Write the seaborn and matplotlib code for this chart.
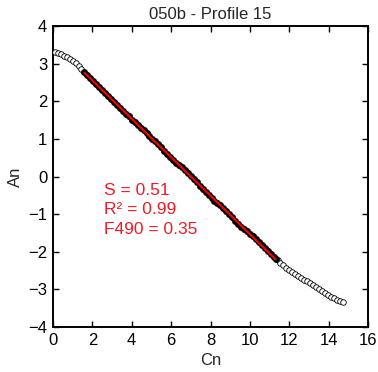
import numpy as np
import pandas as pd
import matplotlib
matplotlib.use('Agg')
import matplotlib.pyplot as plt
import seaborn as sns

# profile points outside the fitted window (open circles)
cn_head = [0.10, 0.25, 0.40, 0.55, 0.70, 0.85, 1.00, 1.15, 1.30, 1.45]
an_head = [3.32, 3.29, 3.25, 3.21, 3.17, 3.12, 3.07, 3.01, 2.94, 2.87]

cn_tail = [11.40, 11.55, 11.70, 11.85, 12.00, 12.15, 12.30, 12.45, 12.60, 12.75,
           12.90, 13.05, 13.20, 13.35, 13.50, 13.65, 13.80, 13.95, 14.10, 14.25,
           14.40, 14.55, 14.70]
an_tail = [-2.22, -2.29, -2.36, -2.42, -2.48, -2.54, -2.59, -2.64, -2.69, -2.74,
           -2.79, -2.84, -2.89, -2.94, -2.99, -3.04, -3.09, -3.14, -3.19, -3.23,
           -3.27, -3.30, -3.33]

# points used for the fit (filled black)
cn_fit = [1.60, 1.75, 1.90, 2.05, 2.20, 2.35, 2.50, 2.65, 2.80, 2.95,
          3.10, 3.25, 3.40, 3.55, 3.70, 3.85, 4.00, 4.15, 4.30, 4.45,
          4.60, 4.75, 4.90, 5.05, 5.20, 5.35, 5.50, 5.65, 5.80, 5.95,
          6.10, 6.25, 6.40, 6.55, 6.70, 6.85, 7.00, 7.15, 7.30, 7.45,
          7.60, 7.75, 7.90, 8.05, 8.20, 8.35, 8.50, 8.65, 8.80, 8.95,
          9.10, 9.25, 9.40, 9.55, 9.70, 9.85, 10.00, 10.15, 10.30, 10.45,
          10.60, 10.75, 10.90, 11.05, 11.20, 11.30]
an_fit = [2.77, 2.69, 2.62, 2.54, 2.47, 2.39, 2.30, 2.23, 2.15, 2.07,
          1.99, 1.90, 1.83, 1.74, 1.66, 1.60, 1.51, 1.45, 1.36, 1.30,
          1.24, 1.17, 1.09, 1.01, 0.94, 0.86, 0.78, 0.69, 0.60, 0.51,
          0.43, 0.37, 0.31, 0.24, 0.17, 0.09, 0.01, -0.07, -0.15, -0.24,
          -0.33, -0.42, -0.50, -0.57, -0.64, -0.70, -0.76, -0.83, -0.91, -0.99,
          -1.08, -1.17, -1.26, -1.33, -1.40, -1.46, -1.52, -1.59, -1.67, -1.75,
          -1.82, -1.90, -1.98, -2.06, -2.14, -2.19]

stats_text = ['S = 0.51', 'R\u00b2 = 0.99', 'F490 = 0.35']

sns.set_style('ticks')
plt.rcParams['font.family'] = ['Liberation Sans', 'DejaVu Sans']
plt.rcParams['font.size'] = 12

fig = plt.figure(figsize=(3.78, 3.72), dpi=100)
ax = fig.add_axes([0.140, 0.121, 0.834, 0.809])

df_open = pd.DataFrame({'Cn': cn_head + cn_tail, 'An': an_head + an_tail})
df_fit = pd.DataFrame({'Cn': cn_fit, 'An': an_fit})

sns.scatterplot(data=df_open, x='Cn', y='An', ax=ax, s=16, facecolor='white',
                edgecolor='black', linewidth=0.6, zorder=3)
sns.scatterplot(data=df_fit, x='Cn', y='An', ax=ax, s=20, color='black',
                edgecolor='black', linewidth=0.5, zorder=3)
sns.regplot(data=df_fit, x='Cn', y='An', ax=ax, scatter=False, ci=None,
            color='red', line_kws={'linewidth': 1.5, 'zorder': 4})

ax.text(2.6, -0.36, stats_text[0], color='#ee1c25', fontsize=12.5, va='center')
ax.text(2.6, -0.89, stats_text[1], color='#ee1c25', fontsize=12.5, va='center')
ax.text(2.6, -1.40, stats_text[2], color='#ee1c25', fontsize=12.5, va='center')

ax.set_xlim(0, 16)
ax.set_ylim(-4, 4)
ax.set_xticks(np.arange(0, 17, 2))
ax.set_yticks(np.arange(-4, 5, 1))
ax.tick_params(direction='in', length=4, width=1, top=True, right=True,
               labelsize=12, pad=4, colors='black')
for sp in ax.spines.values():
    sp.set_visible(True)
    sp.set_linewidth(1.4)
    sp.set_color('black')

ax.set_xlabel('Cn', fontsize=12)
ax.set_ylabel('An', fontsize=12)
ax.set_title('050b - Profile 15', fontsize=12, pad=5)

fig.savefig('out.png', dpi=100)
